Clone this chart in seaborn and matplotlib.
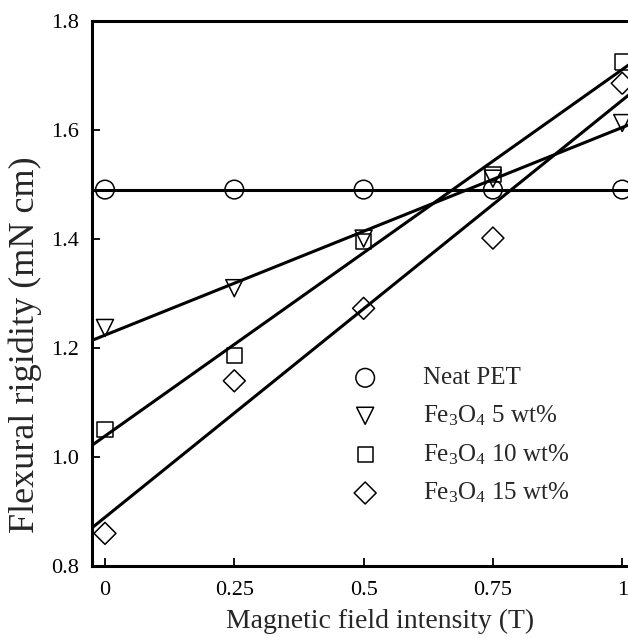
import numpy as np
import pandas as pd
import matplotlib
matplotlib.use("Agg")
import matplotlib.pyplot as plt
import seaborn as sns
from matplotlib.collections import PathCollection

# ---- data ----
field = [0.0, 0.25, 0.5, 0.75, 1.0]
neat_pet = [1.49, 1.49, 1.49, 1.49, 1.49]
fe_5 = [1.236, 1.309, 1.400, 1.510, 1.612]
fe_10 = [1.049, 1.185, 1.395, 1.517, 1.724]
fe_15 = [0.859, 1.139, 1.272, 1.401, 1.685]
series_labels = ["Neat PET", r"Fe$_3$O$_4$ 5 wt%", r"Fe$_3$O$_4$ 10 wt%", r"Fe$_3$O$_4$ 15 wt%"]
xticks = [0, 0.25, 0.5, 0.75, 1.0]
xtick_labels = ["0", "0.25", "0.5", "0.75", "1"]
yticks = [0.8, 1.0, 1.2, 1.4, 1.6, 1.8]
ytick_labels = ["0.8", "1.0", "1.2", "1.4", "1.6", "1.8"]

sns.set_style("ticks")
plt.rcParams["font.family"] = ["Liberation Serif", "DejaVu Serif"]
plt.rcParams["mathtext.fontset"] = "custom"
plt.rcParams["mathtext.rm"] = "Liberation Serif"
plt.rcParams["mathtext.it"] = "Liberation Serif:italic"
plt.rcParams["mathtext.bf"] = "Liberation Serif:bold"

fig = plt.figure(figsize=(6.28, 6.38), dpi=100)
ax = fig.add_axes([0.146, 0.1136, 0.886, 0.854])
ax.set_xlim(-0.0257, 1.05)
ax.set_ylim(0.8, 1.8)

series = [neat_pet, fe_5, fe_10, fe_15]
markers = ["o", "v", "s", "D"]
sizes = [180, 150, 120, 125]

handles = []
for vals, lab, mk, sz in zip(series, series_labels, markers, sizes):
    df = pd.DataFrame({"x": field, "y": vals})
    sns.regplot(data=df, x="x", y="y", ax=ax, ci=None, truncate=False,
                marker=mk, label=lab, color="black",
                scatter_kws={"s": sz, "facecolors": "none", "edgecolors": "black",
                             "linewidths": 1.1, "alpha": 1, "zorder": 3, "clip_on": False},
                line_kws={"linewidth": 2.2, "color": "black", "zorder": 2})
    coll = [c for c in ax.collections if isinstance(c, PathCollection)][-1]
    handles.append(coll)

ax.set_xlim(-0.0257, 1.05)
ax.set_ylim(0.8, 1.8)
ax.set_xticks(xticks)
ax.set_xticklabels(xtick_labels)
ax.set_yticks(yticks)
ax.set_yticklabels(ytick_labels)
ax.tick_params(direction="in", length=6, width=1.3, labelsize=16, pad=9,
               colors="black", top=False, right=False)
ax.tick_params(axis="x", pad=11)
for sp in ax.spines.values():
    sp.set_linewidth(2.2)
    sp.set_color("black")

ax.set_xlabel("Magnetic field intensity (T)", fontsize=20)
ax.set_ylabel("Flexural rigidity (mN cm)", fontsize=26)
ax.xaxis.set_label_coords(0.519, -0.079)
ax.yaxis.set_label_coords(-0.09, 0.405)

leg = ax.legend(handles=handles, labels=series_labels, loc="upper left",
                bbox_to_anchor=(0.4286, 0.383), borderaxespad=0, frameon=False,
                fontsize=18, handletextpad=1.3, labelspacing=0.56, handlelength=2.0)

fig.savefig("out.png", dpi=100)
